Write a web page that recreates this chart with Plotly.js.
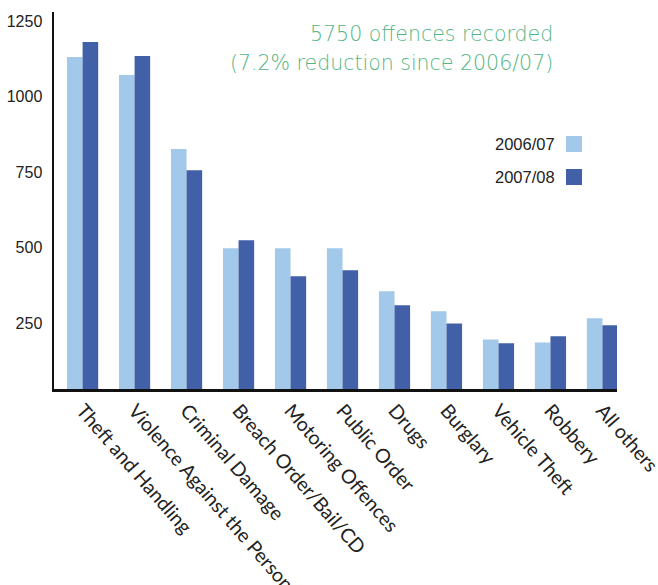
<!DOCTYPE html>
<html>
<head>
<meta charset="utf-8">
<script src="https://cdn.plot.ly/plotly-3.0.1.min.js"></script>
<style>
  html, body { margin: 0; padding: 0; background: #fff; }
  #chart { width: 658px; height: 585px; }
</style>
</head>
<body>
<div id="chart"></div>
<script>
// Offence categories and recorded counts per year
const categories = [
  "Theft and Handling", "Violence Against the Person", "Criminal Damage",
  "Breach Order/Bail/CD", "Motoring Offences", "Public Order", "Drugs",
  "Burglary", "Vehicle Theft", "Robbery", "All others"
];
const offences0607 = [1131, 1071, 826, 498, 498, 498, 355, 289, 196, 186, 266];
const offences0708 = [1180, 1134, 756, 524, 405, 425, 309, 249, 183, 206, 243];
const seriesNames = ["2006/07", "2007/08"];
const yTicks = [250, 500, 750, 1000, 1250];
const headline = ["5750 offences recorded", "(7.2% reduction since 2006/07)"];

const lightBlue = "#a2c8ea";
const darkBlue = "#4260a8";
const green = "#52b583";

const traces = [
  { type: "bar", name: seriesNames[0], x: categories, y: offences0607,
    marker: { color: lightBlue }, hoverinfo: "x+y" },
  { type: "bar", name: seriesNames[1], x: categories, y: offences0708,
    marker: { color: darkBlue }, hoverinfo: "x+y" }
];

// Legend drawn as text with the swatch to its right
const legendRows = [
  { label: seriesNames[0], color: lightBlue, y: 144 },
  { label: seriesNames[1], color: darkBlue, y: 177 }
];
const H = 585, W = 658;
const shapes = [];
const annotations = [];
legendRows.forEach(r => {
  shapes.push({ type: "rect", xref: "paper", yref: "paper",
    x0: (566 - 54) / 563, x1: (582 - 54) / 563,
    y0: (389 - (r.y + 8)) / 377, y1: (389 - (r.y - 8)) / 377,
    fillcolor: r.color, line: { width: 0 } });
  annotations.push({ xref: "paper", yref: "paper",
    x: (557 - 54) / 563, y: (389 - r.y) / 377,
    xanchor: "right", yanchor: "middle", showarrow: false,
    text: r.label, font: { family: "Liberation Sans, Arial, sans-serif", size: 16.5, color: "#222" } });
});

// Headline summary, right aligned
[34, 63].forEach((yy, i) => {
  annotations.push({ xref: "paper", yref: "paper",
    x: (555 - 54) / 563, y: (389 - yy) / 377, xanchor: "right", yanchor: "middle",
    showarrow: false, text: headline[i],
    font: { family: "DejaVu Sans, sans-serif", weight: 200, size: 20.5, color: green } });
});

const layout = {
  width: W, height: H,
  margin: { l: 54, r: 41, t: 12, b: 196 },
  paper_bgcolor: "#fff", plot_bgcolor: "#fff",
  showlegend: false,
  barmode: "group", bargap: 0.4, bargroupgap: 0,
  xaxis: {
    type: "category", range: [-0.55, 10.28],
    showline: true, linecolor: "#111", linewidth: 2.5,
    showgrid: false, zeroline: false, ticks: "",
    tickangle: 49,
    tickfont: { family: "Lato, sans-serif", size: 19.5, color: "#222" }
  },
  yaxis: {
    range: [31.8, 1279.7], tickvals: yTicks, ticktext: yTicks.map(String),
    showline: true, linecolor: "#111", linewidth: 2.5,
    showgrid: false, zeroline: false,
    ticks: "outside", ticklen: 6, tickcolor: "rgba(0,0,0,0)",
    tickfont: { family: "Liberation Sans, Arial, sans-serif", size: 16, color: "#222" }
  },
  shapes: shapes,
  annotations: annotations
};

Plotly.newPlot("chart", traces, layout, { displayModeBar: false, staticPlot: true });
</script>
</body>
</html>
